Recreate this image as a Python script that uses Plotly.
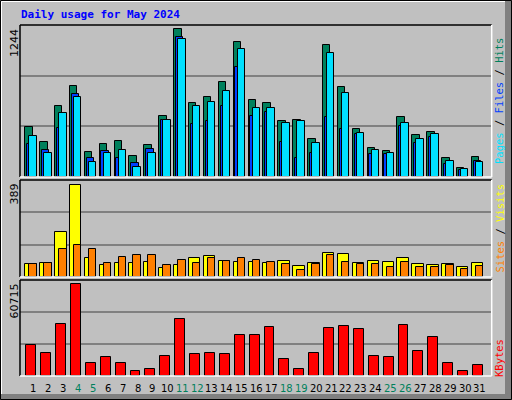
import plotly.graph_objects as go

days = list(range(1, 32))
day_labels = [str(d) for d in days]
weekend_days = [4, 5, 11, 12, 18, 19, 25, 26]

hits = [425, 298, 600, 769, 214, 281, 307, 180, 270, 518, 1244, 625, 676, 802, 1140, 652,
        625, 473, 481, 321, 1109, 760, 408, 248, 222, 509, 357, 383, 163, 79, 172]
files = [282, 225, 411, 703, 163, 222, 163, 121, 239, 484, 1182, 450, 475, 594, 923, 518,
         551, 298, 163, 204, 502, 408, 366, 197, 197, 433, 290, 341, 113, 62, 138]
pages = [349, 206, 543, 678, 129, 206, 231, 87, 206, 476, 1160, 602, 633, 726, 1075, 577,
         577, 453, 473, 290, 1041, 709, 374, 231, 206, 459, 323, 366, 138, 70, 129]
visits = [56, 61, 188, 389, 78, 52, 61, 61, 65, 39, 52, 82, 90, 69, 65, 65, 61, 69, 48, 61,
          103, 99, 61, 69, 65, 78, 56, 52, 56, 44, 61]
sites = [56, 61, 116, 133, 116, 61, 86, 94, 94, 52, 73, 61, 78, 69, 82, 73, 65, 56, 31, 56,
         94, 65, 56, 56, 44, 65, 44, 44, 52, 35, 48]
kbytes = [20830, 15510, 34130, 60715, 8860, 12850, 8860, 3540, 4870, 13520, 37450, 14850,
          15510, 14850, 27480, 27480, 32130, 11520, 4870, 15510, 31470, 32800, 30800, 13520,
          12850, 33460, 16840, 26150, 8860, 3540, 7530]


def py(px):  # pixel row -> paper y
    return 1 - px / 400


x_range = [0.107, 31.79]
panels = [(25, 177), (180, 277), (280, 376)]
bar_tops = [29.3, 184.7, 284.3]

fig = go.Figure()


def add_bars(vals, color, offset, width, axis):
    fig.add_trace(go.Bar(x=days, y=vals, offset=offset, width=width, xaxis="x" + axis, yaxis="y" + axis,
                         marker=dict(color=color, line=dict(color="black", width=1))))


add_bars(hits, "#00805C", -0.54, 0.5, "")
add_bars(files, "#0040FF", -0.42, 0.5, "")
add_bars(pages, "#00E0FF", -0.27, 0.5, "")
add_bars(visits, "#FFFF00", -0.54, 0.77, "2")
add_bars(sites, "#FF8000", -0.27, 0.5, "2")
add_bars(kbytes, "#FF0000", -0.47, 0.67, "3")

maxes = [max(hits), max(visits), max(kbytes)]
layout = dict(width=512, height=400, margin=dict(l=0, r=0, t=0, b=0), showlegend=False,
              paper_bgcolor="#C0C0C0", plot_bgcolor="#C0C0C0", barmode="overlay", bargap=0)
for i, ((top, bot), bt, m) in enumerate(zip(panels, bar_tops, maxes)):
    sfx = "" if i == 0 else str(i + 1)
    ymax = m * (bot - top) / (bot - bt)
    layout["xaxis" + sfx] = dict(domain=[20 / 512, 491.7 / 512], range=x_range, showgrid=False,
                                 showticklabels=False, zeroline=False, anchor="y" + sfx, fixedrange=True)
    layout["yaxis" + sfx] = dict(domain=[py(bot), py(top)], range=[0, ymax], showticklabels=False,
                                 tickvals=[ymax / 3, 2 * ymax / 3], gridcolor="#808080", gridwidth=1.5,
                                 zeroline=False, anchor="x" + sfx, fixedrange=True)
fig.update_layout(**layout)

shapes = [
    dict(type="rect", xref="paper", yref="paper", x0=505 / 512, x1=1, y0=0, y1=1,
         fillcolor="#808080", line_width=0, layer="below"),
    dict(type="rect", xref="paper", yref="paper", x0=0, x1=1, y0=0, y1=6 / 400,
         fillcolor="#808080", line_width=0, layer="below"),
    dict(type="rect", xref="paper", yref="paper", x0=0.5 / 512, x1=511.5 / 512, y0=0.5 / 400, y1=399.5 / 400,
         line=dict(color="black", width=1)),
    dict(type="line", xref="paper", yref="paper", x0=1.5 / 512, x1=505 / 512, y0=py(1.5), y1=py(1.5),
         line=dict(color="white", width=1)),
    dict(type="line", xref="paper", yref="paper", x0=1.5 / 512, x1=1.5 / 512, y0=py(1.5), y1=py(394),
         line=dict(color="white", width=1)),
]
for top, bot in panels:
    shapes += [
        dict(type="line", xref="paper", yref="paper", x0=20 / 512, x1=491.7 / 512, y0=py(top), y1=py(top),
             line=dict(color="black", width=1.5)),
        dict(type="line", xref="paper", yref="paper", x0=20 / 512, x1=20 / 512, y0=py(top), y1=py(bot),
             line=dict(color="black", width=1.5)),
        dict(type="line", xref="paper", yref="paper", x0=20 / 512, x1=491.7 / 512, y0=py(bot), y1=py(bot),
             line=dict(color="white", width=1.5)),
        dict(type="line", xref="paper", yref="paper", x0=491.7 / 512, x1=491.7 / 512, y0=py(top), y1=py(bot),
             line=dict(color="white", width=1.5)),
    ]
fig.update_layout(shapes=shapes)

mono = "DejaVu Sans Mono"
ann = [dict(x=19 / 512, y=py(15), xref="paper", yref="paper", xanchor="left", yanchor="middle",
            text="<b>Daily usage for May 2024</b>", showarrow=False,
            font=dict(family=mono, size=11, color="#0000FF"))]
for (top, bot), m in zip(panels, maxes):
    ann.append(dict(x=14 / 512, y=py(top + 2), xref="paper", yref="paper", xanchor="center", yanchor="top",
                    text=str(m), textangle=-90, showarrow=False, font=dict(family="DejaVu Sans", size=11, color="black")))
sl = '<span style="color:black"> / </span>'
side = [
    ((25 + 177) / 2, '<span style="color:#00E0FF">Pages</span>' + sl + '<span style="color:#0040FF">Files</span>'
     + sl + '<span style="color:#00805C">Hits</span>'),
    ((180 + 277) / 2, '<span style="color:#FF8000">Sites</span>' + sl + '<span style="color:#FFFF00">Visits</span>'),
    (358, '<span style="color:#FF0000">KBytes</span>'),
]
for yy, txt in side:
    ann.append(dict(x=499 / 512, y=py(yy), xref="paper", yref="paper", xanchor="center", yanchor="middle",
                    text=txt, textangle=-90, showarrow=False, font=dict(family=mono, size=10.5)))
for d, lab in zip(days, day_labels):
    ann.append(dict(x=d, y=py(388), xref="x3", yref="paper", xanchor="center", yanchor="middle",
                    text=lab, showarrow=False,
                    font=dict(family="DejaVu Sans", size=10, color="#00805C" if d in weekend_days else "black")))
fig.update_layout(annotations=ann)

fig.write_html("out.html", config={"displayModeBar": False},
               post_script="document.body.style.margin='0';document.body.style.overflow='hidden';")
